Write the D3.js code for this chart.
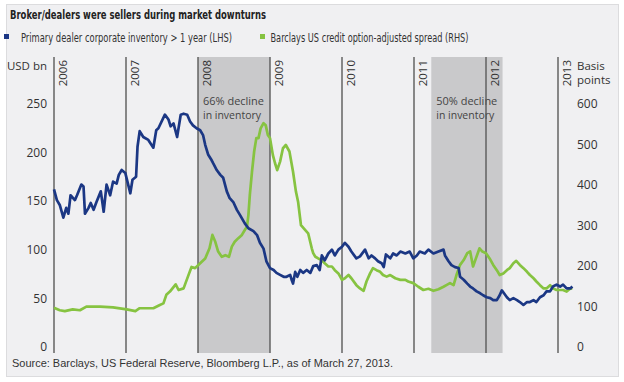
<!DOCTYPE html>
<html>
<head>
<meta charset="utf-8">
<script src="https://cdn.jsdelivr.net/npm/d3@7"></script>
<style>
  html, body { margin: 0; padding: 0; background: #ffffff; }
  svg { display: block; }
</style>
</head>
<body>
<svg id="chart" width="624" height="382"></svg>
<script>
// ---------------- DATA ----------------
const titleText = "Broker/dealers were sellers during market downturns";
const seriesNames = ["Primary dealer corporate inventory > 1 year (LHS)", "Barclays US credit option-adjusted spread (RHS)"];
const sourceText = "Source: Barclays, US Federal Reserve, Bloomberg L.P., as of March 27, 2013.";
const yearLabels = [2006, 2007, 2008, 2009, 2010, 2011, 2012, 2013];
const leftTicks = [0, 50, 100, 150, 200, 250];
const rightTicks = [0, 100, 200, 300, 400, 500, 600];
const shadeStarts = [2008.0, 2011.24];
const shadeEnds = [2009.0, 2012.23];
const shadeNotes = [["66% decline", "in inventory"], ["50% decline", "in inventory"]];

// inventory (USD bn, LHS): decimal year / value
const invT = [2006.00,2006.04,2006.08,2006.13,2006.17,2006.20,2006.23,2006.29,2006.32,2006.38,2006.41,2006.43,2006.48,2006.51,2006.55,2006.59,2006.65,2006.69,2006.73,2006.78,2006.82,2006.87,2006.90,2006.94,2006.99,2007.02,2007.06,2007.09,2007.14,2007.16,2007.19,2007.24,2007.31,2007.38,2007.42,2007.45,2007.54,2007.59,2007.62,2007.66,2007.71,2007.76,2007.80,2007.85,2007.89,2007.93,2007.98,2008.03,2008.07,2008.10,2008.14,2008.19,2008.21,2008.26,2008.31,2008.35,2008.40,2008.44,2008.49,2008.54,2008.58,2008.65,2008.70,2008.77,2008.82,2008.86,2008.91,2008.95,2009.00,2009.05,2009.09,2009.14,2009.19,2009.23,2009.28,2009.30,2009.32,2009.35,2009.38,2009.42,2009.46,2009.51,2009.56,2009.60,2009.65,2009.69,2009.72,2009.76,2009.81,2009.86,2009.90,2009.95,2010.00,2010.04,2010.09,2010.13,2010.20,2010.25,2010.32,2010.37,2010.41,2010.46,2010.50,2010.55,2010.58,2010.61,2010.67,2010.71,2010.76,2010.81,2010.88,2010.94,2010.99,2011.04,2011.08,2011.15,2011.20,2011.27,2011.34,2011.41,2011.43,2011.48,2011.52,2011.57,2011.62,2011.64,2011.69,2011.74,2011.78,2011.82,2011.87,2011.92,2011.96,2012.01,2012.06,2012.10,2012.15,2012.19,2012.22,2012.25,2012.29,2012.33,2012.38,2012.43,2012.47,2012.52,2012.57,2012.61,2012.66,2012.70,2012.75,2012.80,2012.84,2012.89,2012.93,2012.98,2013.03,2013.07,2013.12,2013.17,2013.20];
const invV = [162,151,146,133,143,137,156,151,156,167,165,137,143,148,141,149,160,139,167,156,170,168,177,182,179,170,158,172,175,206,222,216,213,205,223,225,239,234,227,230,216,239,240,239,232,228,225,223,218,208,198,192,189,182,177,174,160,153,149,141,136,127,122,119,115,107,101,88,81,79,76,74,72,72,74,69,65,77,72,79,76,79,76,83,84,79,94,89,96,100,94,100,103,107,103,98,91,93,100,91,94,91,88,86,82,95,91,96,94,98,96,98,91,94,98,96,100,96,98,100,94,88,84,82,81,72,69,65,62,60,57,55,53,51,50,48,48,53,58,55,51,48,50,48,46,43,46,46,48,46,51,53,57,57,62,64,62,64,60,60,62];

// spread (basis points, RHS): decimal year / value
const sprT = [2006.00,2006.08,2006.15,2006.26,2006.36,2006.45,2006.64,2006.82,2007.01,2007.13,2007.19,2007.38,2007.47,2007.52,2007.56,2007.61,2007.69,2007.73,2007.80,2007.86,2007.91,2007.96,2008.03,2008.10,2008.16,2008.20,2008.24,2008.28,2008.33,2008.38,2008.43,2008.47,2008.51,2008.56,2008.61,2008.65,2008.68,2008.70,2008.72,2008.75,2008.78,2008.81,2008.84,2008.87,2008.91,2008.94,2008.97,2009.00,2009.04,2009.07,2009.10,2009.14,2009.18,2009.22,2009.27,2009.32,2009.36,2009.39,2009.43,2009.49,2009.53,2009.58,2009.60,2009.63,2009.67,2009.72,2009.76,2009.81,2009.86,2009.90,2009.95,2010.00,2010.04,2010.09,2010.13,2010.20,2010.25,2010.30,2010.34,2010.39,2010.43,2010.48,2010.53,2010.57,2010.62,2010.67,2010.74,2010.81,2010.88,2010.92,2010.99,2011.06,2011.13,2011.20,2011.27,2011.34,2011.41,2011.45,2011.50,2011.55,2011.59,2011.64,2011.69,2011.74,2011.78,2011.82,2011.86,2011.91,2011.95,2012.00,2012.05,2012.10,2012.15,2012.19,2012.24,2012.29,2012.33,2012.38,2012.42,2012.47,2012.52,2012.57,2012.61,2012.66,2012.70,2012.75,2012.80,2012.84,2012.89,2012.93,2012.98,2013.03,2013.07,2013.12,2013.17,2013.20];
const sprV = [96,90,88,92,90,99,99,97,92,88,95,95,103,107,128,136,154,140,144,173,197,194,206,218,243,276,259,235,222,226,222,247,259,268,276,288,296,325,375,432,482,515,515,539,552,547,523,515,473,453,436,457,490,498,482,432,383,358,300,288,280,243,231,222,218,214,206,198,198,189,181,165,169,177,169,152,144,138,161,181,194,189,185,177,173,177,169,165,165,161,157,148,140,143,138,142,148,152,157,152,177,202,214,231,235,198,218,243,235,231,218,202,189,177,181,189,194,206,212,202,194,185,177,169,161,152,144,144,152,144,140,140,140,136,144,143];

// ---------------- CHART ----------------
const svg = d3.select("#chart");
const plotTop = 57, plotBottom = 353;
const blue = "#1b3784", green = "#86c341";
const tickFont = "'Open Sans', 'Noto Sans', sans-serif";
const narrowFont = "'Liberation Sans Narrow', 'DejaVu Sans Condensed', 'Liberation Sans', sans-serif";

// panel
svg.append("rect").attr("x", 6.5).attr("y", 4.5).attr("width", 612).attr("height", 372)
  .attr("fill", "#f0f0f2").attr("stroke", "#dcdcde");

const x = d3.scaleLinear().domain([2006, 2013]).range([54, 558]);
const yL = d3.scaleLinear().domain([0, 250]).range([346.7, 104]);
const yR = d3.scaleLinear().domain([0, 600]).range([346.7, 103.7]);

// shaded periods
svg.append("g").selectAll("rect").data(shadeStarts).join("rect")
  .attr("x", d => x(d)).attr("y", plotTop)
  .attr("width", (d, i) => x(shadeEnds[i]) - x(d)).attr("height", plotBottom - plotTop)
  .attr("fill", "#c9c9cb");

// shade notes
shadeNotes.forEach((lines, i) => {
  lines.forEach((s, j) => svg.append("text")
    .attr("font-family", tickFont).attr("font-size", 11.5).attr("fill", "#444")
    .attr("x", x(shadeStarts[i]) + 5).attr("y", 105 + j * 13.5)
    .attr("textLength", j ? 58 : 61).attr("lengthAdjust", "spacingAndGlyphs")
    .text(s));
});

// year lines
svg.append("g").selectAll("line").data(yearLabels).join("line")
  .attr("x1", d => x(d)).attr("x2", d => x(d)).attr("y1", plotTop).attr("y2", plotBottom)
  .attr("stroke", "#5a5a5a").attr("stroke-width", 1.4);

svg.append("g").selectAll("text").data(yearLabels).join("text")
  .attr("transform", d => `translate(${x(d) + 12.5},60) rotate(-90)`)
  .attr("text-anchor", "end")
  .attr("font-family", tickFont).attr("font-size", 11.5).attr("fill", "#333")
  .text(d => d);

// lines
const lineSpr = d3.line().x(d => x(d[0])).y(d => yR(d[1]));
const lineInv = d3.line().x(d => x(d[0])).y(d => yL(d[1]));
svg.append("path").datum(sprT.map((t, i) => [t, sprV[i]])).attr("d", lineSpr)
  .attr("fill", "none").attr("stroke", green).attr("stroke-width", 2.7).attr("stroke-linejoin", "round");
svg.append("path").datum(invT.map((t, i) => [t, invV[i]])).attr("d", lineInv)
  .attr("fill", "none").attr("stroke", blue).attr("stroke-width", 2.7).attr("stroke-linejoin", "round");

// axes
const gL = svg.append("g").attr("transform", "translate(47,0)")
  .call(d3.axisLeft(yL).tickValues(leftTicks).tickSize(0).tickPadding(0));
const gR = svg.append("g").attr("transform", "translate(577,0)")
  .call(d3.axisRight(yR).tickValues(rightTicks).tickSize(0).tickPadding(0));
[gL, gR].forEach(g => {
  g.select(".domain").remove();
  g.attr("font-family", tickFont).attr("font-size", 12);
  g.selectAll("text").attr("fill", "#333");
});

svg.append("text").attr("x", 47).attr("y", 70).attr("text-anchor", "end")
  .attr("font-family", tickFont).attr("font-size", 11.5).attr("fill", "#333").text("USD bn");
svg.append("text").attr("x", 577).attr("y", 70)
  .attr("font-family", tickFont).attr("font-size", 11.5).attr("fill", "#333").text("Basis");
svg.append("text").attr("x", 577).attr("y", 84)
  .attr("font-family", tickFont).attr("font-size", 11.5).attr("fill", "#333").text("points");

// title
svg.append("text").attr("x", 10).attr("y", 18.5)
  .attr("font-family", narrowFont).attr("font-weight", "bold").attr("font-size", 12.5)
  .attr("fill", "#222").attr("textLength", 256).attr("lengthAdjust", "spacingAndGlyphs")
  .text(titleText);

// legend
const legX = [4, 260], legTX = [21, 270.5], legW = [211, 198], legC = [blue, green];
seriesNames.forEach((s, i) => {
  svg.append("rect").attr("x", legX[i]).attr("y", 34).attr("width", 5).attr("height", 5).attr("fill", legC[i]);
  svg.append("text").attr("x", legTX[i]).attr("y", 42)
    .attr("font-family", narrowFont).attr("font-size", 12).attr("fill", "#333")
    .attr("textLength", legW[i]).attr("lengthAdjust", "spacingAndGlyphs").text(s);
});

// source
svg.append("text").attr("x", 12).attr("y", 366.5)
  .attr("font-family", "'Liberation Sans', Arial, sans-serif").attr("font-size", 11.5).attr("fill", "#333")
  .attr("textLength", 381).attr("lengthAdjust", "spacingAndGlyphs").text(sourceText);
</script>
</body>
</html>
